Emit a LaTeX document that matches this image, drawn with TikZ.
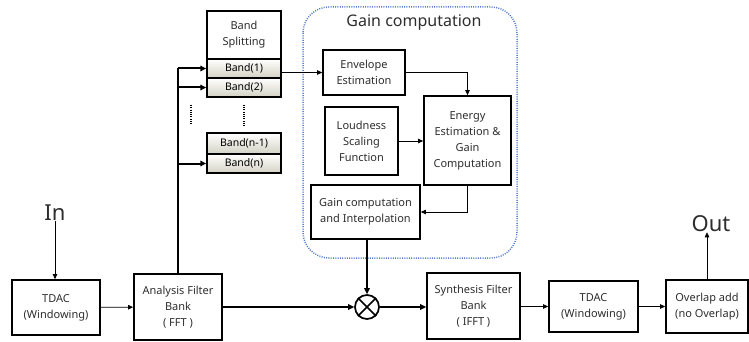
\documentclass[tikz,border=0pt]{standalone}
\usepackage{fontspec}
\setmainfont{Noto Sans}
\usetikzlibrary{arrows.meta}
\definecolor{txt}{RGB}{45,45,45}
\definecolor{gainblue}{RGB}{85,125,205}
\definecolor{bandbot}{RGB}{212,210,196}
\tikzset{
  blk/.style={draw=black, line width=1.7pt, align=center, inner sep=0pt, text=txt,
    font=\fontsize{11}{16}\selectfont},
  bandbox/.style={blk, line width=1.4pt, top color=white, bottom color=bandbot,
    text=black, font=\fontsize{10.5}{12}\selectfont},
  thin/.style={line width=0.8pt, -{Triangle[length=5pt,width=4.5pt]}},
  thick/.style={line width=2pt, -{Triangle[length=6pt,width=5.5pt]}},
  lbl/.style={text=txt, inner sep=0pt},
  fine dots/.style={line width=1.5pt, dash pattern=on 1pt off 1.3pt}
}
\begin{document}
\begin{tikzpicture}[x=1pt,y=-1pt]
\useasboundingbox (0,0) rectangle (749,342);
% gain computation region
\draw[gainblue, fine dots, rounded corners=26pt] (303,7) rectangle (517,258);
\node[lbl, font=\fontsize{16}{18}\selectfont] (gtitle) at (414,23) {Gain computation};
% nodes
\node[lbl, font=\fontsize{22}{24}\selectfont] (in) at (55,213) {In};
\node[lbl, font=\fontsize{22}{24}\selectfont] (out) at (711,224) {Out};
\node[blk, minimum width=88pt, minimum height=55pt] (tdac1) at (56,307.5) {TDAC\\(Windowing)};
\node[blk, minimum width=88pt, minimum height=66pt] (afb) at (178,307) {Analysis Filter\\Bank\\( FFT )};
\node[blk, minimum width=74pt, minimum height=48pt] (bs) at (244,35) {Band\\Splitting};
\node[bandbox, minimum width=74pt, minimum height=19pt] (b1) at (244,68.5) {Band(1)};
\node[bandbox, minimum width=74pt, minimum height=19pt] (b2) at (244,87.5) {Band(2)};
\node[bandbox, minimum width=74pt, minimum height=21pt] (bn1) at (244,143.5) {Band(n-1)};
\node[bandbox, minimum width=74pt, minimum height=19pt] (bn) at (244,163.5) {Band(n)};
\node[blk, minimum width=82pt, minimum height=45pt] (env) at (364,72.5) {Envelope\\Estimation};
\node[blk, minimum width=73pt, minimum height=68pt] (loud) at (361.5,141) {Loudness\\Scaling\\Function};
\node[blk, minimum width=87pt, minimum height=89pt] (energy) at (467.5,140.5) {Energy\\Estimation \&\\Gain\\Computation};
\node[blk, minimum width=109pt, minimum height=54pt] (interp) at (365.5,212) {Gain computation\\and Interpolation};
\node[draw=black, line width=1.7pt, circle, minimum size=24pt, inner sep=0pt] (mult) at (367,307) {};
\draw[line width=1.7pt] (mult.45) -- (mult.225) (mult.135) -- (mult.315);
\node[blk, minimum width=93pt, minimum height=66pt] (synth) at (473.5,306) {Synthesis Filter\\Bank\\( IFFT )};
\node[blk, minimum width=89pt, minimum height=51pt] (tdac2) at (593.5,306.5) {TDAC\\(Windowing)};
\node[blk, minimum width=82pt, minimum height=53pt] (ola) at (707,306.5) {Overlap add\\(no Overlap)};
% connectors
\draw[thin] (in) -- (tdac1.north -| in);
\draw[thin] (tdac1) -- (afb);
\draw[line width=2pt] (afb.north) -- (afb.north |- b1.west);
\draw[thick] (afb.north |- b1.west) -- (b1.west);
\draw[thick] (afb.north |- b2.west) -- (b2.west);
\draw[thick] (afb.north |- bn.west) -- (bn.west);
\draw[fine dots] (191,105) -- (191,125);
\draw[fine dots] (b2.south) ++(0,7) -- ++(0,21);
\draw[thin] (b1.east |- env.west) -- (env.west);
\draw[thin] (env.east) -| (energy.north);
\draw[thin] (loud.east) -- (loud.east -| energy.west);
\draw[thin] (energy.south) |- (interp.east);
\draw[thick] (mult.north |- interp.south) -- (mult.north);
\draw[thick] (afb.east) -- (mult.west);
\draw[thick] (mult.east) -- (mult.east -| synth.west);
\draw[thin] (synth.east |- tdac2.west) -- (tdac2.west);
\draw[thin] (tdac2.east) -- (ola.west);
\draw[thin] (ola.north) -- (out.south -| ola.north);
\end{tikzpicture}
\end{document}
